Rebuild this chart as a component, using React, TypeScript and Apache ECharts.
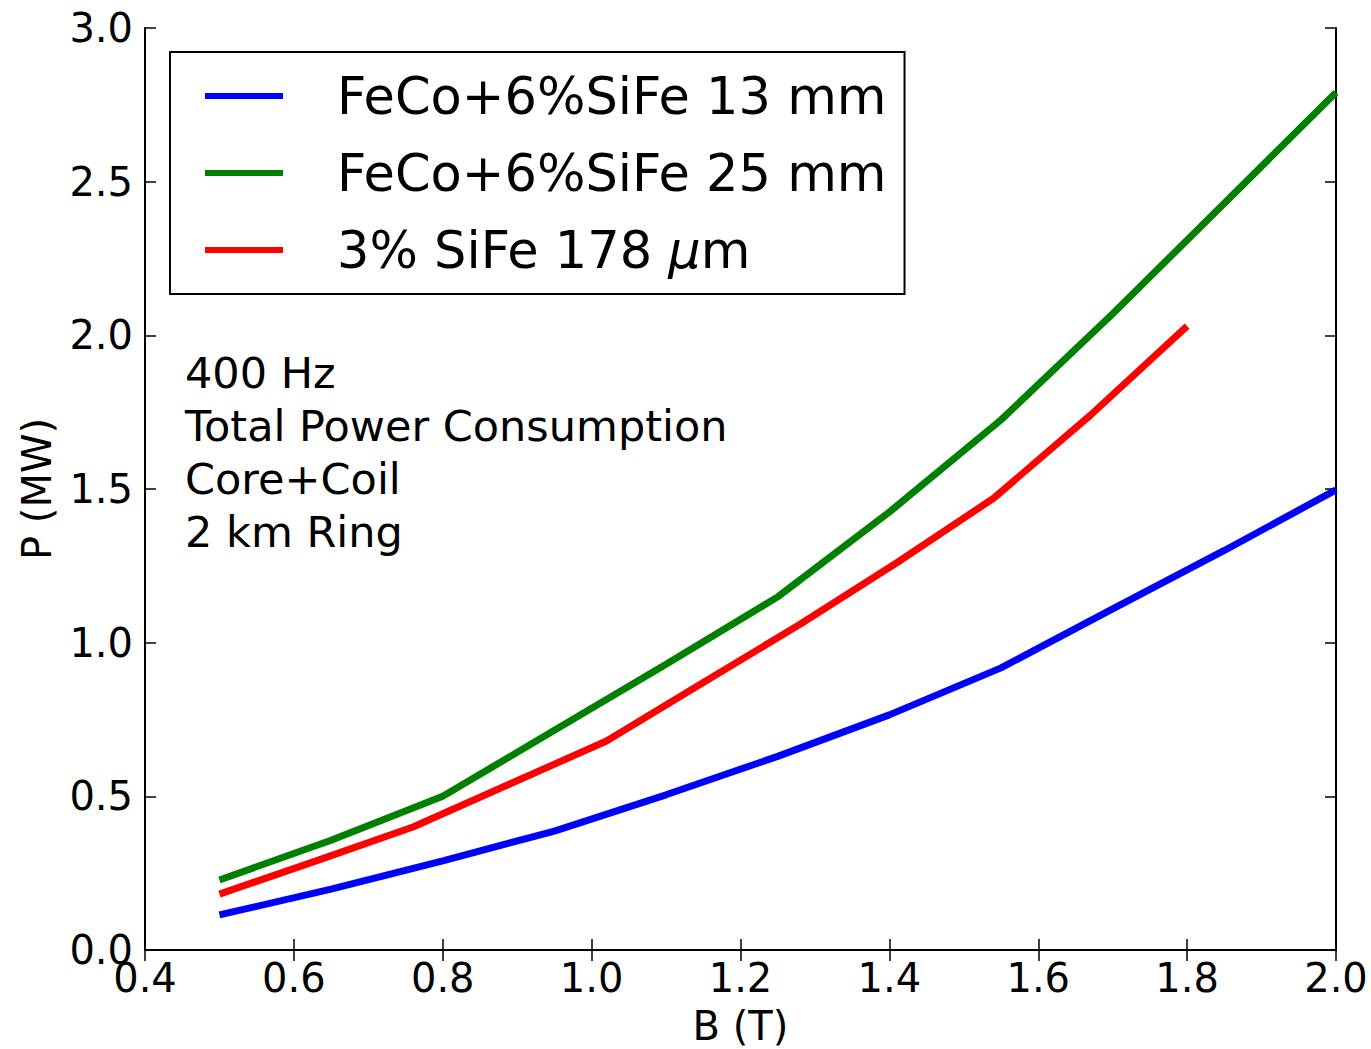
import React, { useEffect, useRef } from "react";
import * as echarts from "echarts";

const seriesNames = ["FeCo+6%SiFe 13 mm", "FeCo+6%SiFe 25 mm", "3% SiFe 178 \u03BCm"];
const seriesColors = ["#0000ff", "#008000", "#ff0000"];

const bFeCo = [0.5, 0.65, 0.8, 0.95, 1.1, 1.25, 1.4, 1.55, 1.7, 1.85, 2.0];
const pFeCo13 = [0.114, 0.198, 0.29, 0.387, 0.505, 0.63, 0.765, 0.918, 1.11, 1.3, 1.497];
const pFeCo25 = [0.228, 0.357, 0.5, 0.715, 0.93, 1.149, 1.425, 1.725, 2.07, 2.43, 2.79];

const bSiFe = [0.5, 0.63, 0.76, 0.89, 1.02, 1.15, 1.28, 1.41, 1.54, 1.67, 1.8];
const pSiFe = [0.182, 0.29, 0.4, 0.54, 0.68, 0.87, 1.06, 1.26, 1.47, 1.74, 2.03];

const xTicks = { min: 0.4, max: 2.0, interval: 0.2 };
const yTicks = { min: 0.0, max: 3.0, interval: 0.5 };

const annotationLines = ["400 Hz", "Total Power Consumption", "Core+Coil", "2 km Ring"];

const FONT = "DejaVu Sans";

function pairs(xs: number[], ys: number[]) {
  return xs.map((x, i) => [x, ys[i]]);
}

export default function App() {
  const ref = useRef<HTMLDivElement>(null);
  useEffect(() => {
    document.body.style.margin = "0";
    const chart = echarts.init(ref.current!, null, { renderer: "svg" });
    const axisLine = { show: true, lineStyle: { color: "#000", width: 2 } };
    const tick = { show: true, inside: true, length: 11, lineStyle: { color: "#000", width: 1.5 } };
    const fmt = (v: number) => v.toFixed(1);
    const datasets = [pairs(bFeCo, pFeCo13), pairs(bFeCo, pFeCo25), pairs(bSiFe, pSiFe)];
    chart.setOption({
      animation: false,
      backgroundColor: "#fff",
      textStyle: { fontFamily: FONT },
      grid: { left: 145, right: 35, top: 28, bottom: 99, containLabel: false, outerBoundsMode: "none" },
      xAxis: [
        {
          type: "value",
          ...xTicks,
          position: "bottom",
          name: "B (T)",
          nameLocation: "middle",
          nameGap: 56,
          nameTextStyle: { fontFamily: FONT, fontSize: 40, color: "#000" },
          axisLine,
          axisTick: tick,
          splitLine: { show: false },
          axisLabel: { formatter: fmt, fontFamily: FONT, fontSize: 40, color: "#000", margin: 8 },
        },
        {
          type: "value",
          ...xTicks,
          position: "top",
          axisLine,
          axisTick: tick,
          splitLine: { show: false },
          axisLabel: { show: false },
        },
      ],
      yAxis: [
        {
          type: "value",
          ...yTicks,
          position: "left",
          name: "P (MW)",
          nameLocation: "middle",
          nameGap: 88,
          nameRotate: 90,
          nameTextStyle: { fontFamily: FONT, fontSize: 40, color: "#000" },
          axisLine,
          axisTick: tick,
          splitLine: { show: false },
          axisLabel: { formatter: fmt, fontFamily: FONT, fontSize: 40, color: "#000", margin: 12 },
        },
        {
          type: "value",
          ...yTicks,
          position: "right",
          axisLine,
          axisTick: tick,
          splitLine: { show: false },
          axisLabel: { show: false },
        },
      ],
      legend: {
        show: true,
        left: 170,
        top: 52,
        orient: "vertical",
        icon: "rect",
        itemWidth: 78,
        itemHeight: 6,
        itemGap: 21,
        padding: [16, 18, 16, 35],
        borderColor: "#000",
        borderWidth: 2,
        data: seriesNames,
        formatter: (name: string) =>
          name.indexOf("\u03BC") >= 0 ? name.replace("\u03BC", "{it|\u03BC}") : name,
        textStyle: {
          fontFamily: FONT,
          fontSize: 51,
          lineHeight: 56,
          color: "#000",
          padding: [0, 0, 0, 49],
          rich: {
            it: { fontFamily: FONT, fontStyle: "italic", fontSize: 51, lineHeight: 56, color: "#000" },
          },
        },
      },
      graphic: [
        {
          type: "text",
          left: 185,
          top: 346,
          style: {
            text: annotationLines.join("\n"),
            font: `43px "${FONT}"`,
            lineHeight: 53,
            fill: "#000",
          },
        },
      ],
      series: datasets.map((d, i) => ({
        name: seriesNames[i],
        type: "line",
        data: d,
        showSymbol: false,
        symbol: "none",
        color: seriesColors[i],
        lineStyle: { color: seriesColors[i], width: 7 },
        z: 3,
      })),
    });
    return () => chart.dispose();
  }, []);
  return <div ref={ref} style={{ width: 1371, height: 1049, position: "absolute", left: 0, top: 0 }} />;
}
